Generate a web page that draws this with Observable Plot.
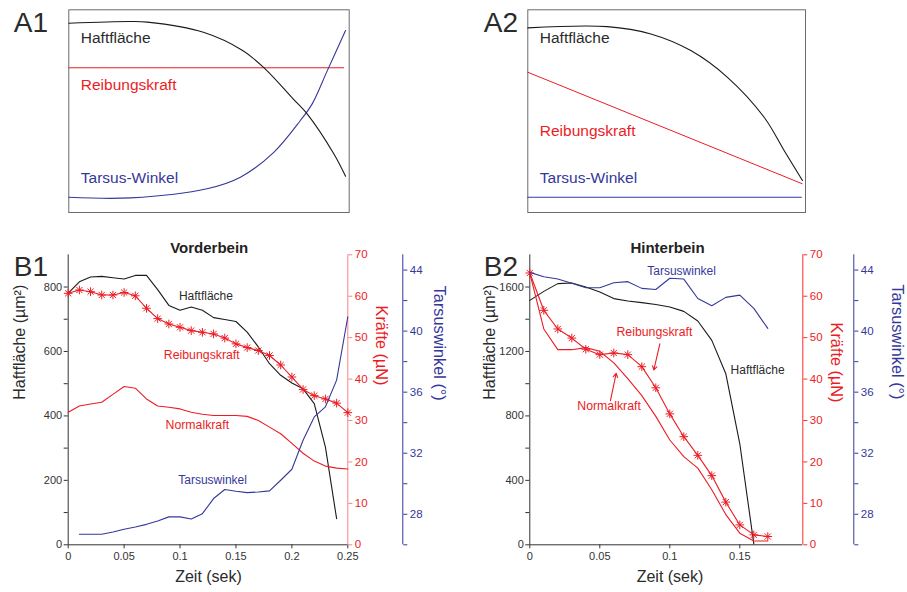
<!DOCTYPE html>
<html><head><meta charset="utf-8">
<script src="https://cdn.jsdelivr.net/npm/d3@7"></script>
<script src="https://cdn.jsdelivr.net/npm/@observablehq/plot@0.6"></script>
<style>
body{margin:0;background:#fff;}
#chart{position:relative;width:907px;height:592px;overflow:hidden;background:#fff;}
</style></head><body><div id="chart"></div>
<script>
// ---------- A1 (schematic, normalised 0..1) ----------
const a1HaftX = [0, 0.22, 0.28, 0.48, 0.62, 0.70, 0.80, 0.85, 0.945, 0.987];
const a1HaftY = [0.934, 0.942, 0.939, 0.889, 0.799, 0.709, 0.561, 0.487, 0.290, 0.179];
const a1ReibX = [0, 0.98];
const a1ReibY = [0.714, 0.714];
const a1TarX = [0, 0.22, 0.493, 0.612, 0.731, 0.826, 0.868, 0.922, 0.987];
const a1TarY = [0.075, 0.072, 0.117, 0.174, 0.297, 0.454, 0.536, 0.70, 0.898];
const aLabels = ["Haftfläche", "Reibungskraft", "Tarsus-Winkel"];
const a1LabelY = [0.86, 0.627, 0.169];

// ---------- A2 ----------
const a2HaftX = [0, 0.286, 0.443, 0.587, 0.719, 0.851, 0.923, 0.989];
const a2HaftY = [0.911, 0.917, 0.881, 0.799, 0.667, 0.470, 0.306, 0.158];
const a2ReibX = [0, 0.988];
const a2ReibY = [0.692, 0.142];
const a2TarX = [0, 0.985];
const a2TarY = [0.075, 0.075];
const a2LabelY = [0.86, 0.40, 0.169];

// ---------- B1 Vorderbein ----------
const b1T = [0,0.01,0.02,0.03,0.04,0.05,0.06,0.07,0.08,0.09,0.10,0.11,0.12,0.13,0.14,0.15,0.16,0.17,0.18,0.19,0.20,0.21,0.22,0.23,0.24,0.25];
const b1Haft = [781,816,831,833,829,825,836,836,792,743,728,738,728,705,699,693,660,614,562,526,502,484,438,303,81]; // t 0..0.24
const b1Reib = [60.7,61.5,61.1,60.3,60.3,60.9,60.1,57.1,54.6,53.3,52.5,51.7,51.3,50.9,49.9,48.5,47.6,46.9,45.7,43.4,40.5,37.5,36.0,35.2,34.2,31.9];
const b1Norm = [32.0,33.5,34.0,34.4,36.3,38.2,37.8,35.2,33.5,33.2,32.8,32.0,31.5,31.2,31.2,31.2,31.0,30.0,28.4,26.8,24.5,22.1,20.2,19.0,18.5,18.3];
const b1Tar = [26.69,26.69,26.69,26.84,27.02,27.17,27.34,27.56,27.83,27.83,27.69,28.04,29.03,29.62,29.51,29.42,29.46,29.53,30.23,30.95,32.85,34.38,35.04,36.79,40.94]; // t 0.01..0.25
const b1XTicks = [0, 0.05, 0.1, 0.15, 0.2, 0.25];
const b1LeftTicks = [0,100,200,300,400,500,600,700,800];

// ---------- B2 Hinterbein ----------
const b2T = [0,0.01,0.02,0.03,0.04,0.05,0.06,0.07,0.08,0.09,0.10,0.11,0.12,0.13,0.14,0.15,0.16,0.17];
const b2Haft = [1517,1573,1621,1625,1600,1569,1528,1513,1503,1492,1476,1449,1389,1269,1062,627,6]; // t 0..0.16
const b2Reib = [65.6,56.6,52.1,49.9,47.2,45.9,46.3,45.9,43.0,37.9,31.6,26.1,21.6,16.7,10.3,4.8,2.4,2.0];
const b2Norm = [65.6,52.1,47.1,47.1,47.6,46.7,43.9,40.1,36.0,31.0,25.3,21.3,18.5,13.3,7.3,2.8,0.9,0.9];
const b2Tar = [43.85,43.56,43.41,43.13,42.84,42.84,43.17,43.24,42.80,42.73,43.46,43.41,42.14,41.66,42.21,42.36,41.49,40.18];
const b2XTicks = [0, 0.05, 0.1, 0.15];
const b2LeftTicks = [0,200,400,600,800,1000,1200,1400,1600];
const b2Arrows = [
  {x1: 0.0929, y1: 48.5, x2: 0.0886, y2: 42.2},
  {x1: 0.0576, y1: 34.8, x2: 0.0617, y2: 41.4}
];

const forceTicks = [0,10,20,30,40,50,60,70];
const angleTicks = [26,28,30,32,34,36,38,40,42,44];

// ---------- styling ----------
const FONT = "'Liberation Sans', Arial, Helvetica, sans-serif";
const BLACK = "#1a1a1a", RED = "#ec1c24", BLUE = "#35389a", INK = "#2b2b2b", BOXC = "#6b6b6b", AXIS = "#333";

const chart = document.getElementById("chart");
const rows = (xs, ys) => ys.map((y, i) => ({x: xs[i], y}));

function plotAt(left, top, options) {
  const svg = Plot.plot(options);
  svg.style.position = "absolute";
  svg.style.left = left + "px";
  svg.style.top = top + "px";
  svg.style.fontFamily = FONT;
  svg.style.fontSize = "11px";
  svg.style.overflow = "visible";
  svg.style.background = "transparent";
  svg.style.maxWidth = "none";
  chart.append(svg);
}

// ---------- A panels ----------
function aPanel(left, geom, haft, reib, tar, labelY, letter, letterDx) {
  plotAt(left, 0, {
    ...geom,
    x: {domain: [0, 1], axis: null},
    y: {domain: [0, 1], axis: null},
    marks: [
      Plot.frame({stroke: BOXC, strokeWidth: 1}),
      Plot.line(reib, {x: "x", y: "y", stroke: RED, strokeWidth: 1}),
      Plot.line(tar, {x: "x", y: "y", stroke: BLUE, strokeWidth: 1.1, curve: "catmull-rom"}),
      Plot.line(haft, {x: "x", y: "y", stroke: BLACK, strokeWidth: 1.1, curve: "catmull-rom"}),
      Plot.text([aLabels[0]], {x: () => 0, y: () => labelY[0], dx: 12, textAnchor: "start", fill: INK, fontSize: 15.5}),
      Plot.text([aLabels[1]], {x: () => 0, y: () => labelY[1], dx: 12, textAnchor: "start", fill: RED, fontSize: 15.5}),
      Plot.text([aLabels[2]], {x: () => 0, y: () => labelY[2], dx: 12, textAnchor: "start", fill: BLUE, fontSize: 15.5}),
      Plot.text([letter], {frameAnchor: "top-left", textAnchor: "start", lineAnchor: "top", dx: letterDx, dy: 2.4, fontSize: 28, fill: INK})
    ]
  });
}
aPanel(0, {width: 455, height: 230, marginLeft: 68.3, marginRight: 106.3, marginTop: 9.3, marginBottom: 18},
  rows(a1HaftX, a1HaftY), rows(a1ReibX, a1ReibY), rows(a1TarX, a1TarY), a1LabelY, "A1", -55);
aPanel(455, {width: 452, height: 230, marginLeft: 72.3, marginRight: 102, marginTop: 9.3, marginBottom: 18},
  rows(a2HaftX, a2HaftY), rows(a2ReibX, a2ReibY), rows(a2TarX, a2TarY), a2LabelY, "A2", -44);

// ---------- B panels ----------
function bPanel(c) {
  const geom = {width: c.width, height: 362, marginLeft: c.ml, marginRight: c.mr, marginTop: 24.3, marginBottom: 47.7};
  const xMax = c.xDomain[1];
  // layer 1: Haftfläche (left axis) + x axis + titles
  plotAt(c.left, 230, {
    ...geom,
    x: {domain: c.xDomain},
    y: {domain: c.leftDomain},
    marks: [
      Plot.ruleX([0], {stroke: AXIS}),
      Plot.ruleY([0], {stroke: AXIS}),
      Plot.axisY(c.leftTicks, {anchor: "left", tickSize: 4, tickPadding: 2, label: null, color: AXIS, fontSize: 11,
        tickFormat: d => d % c.leftLabelStep === 0 ? String(d) : ""}),
      Plot.axisX(c.xTicks, {anchor: "bottom", tickSize: 4, tickPadding: 3, label: null, color: AXIS, fontSize: 11,
        tickFormat: d => String(d)}),
      Plot.line(rows(c.t, c.haft), {x: "x", y: "y", stroke: BLACK, strokeWidth: 1.1}),
      Plot.text(["Haftfläche"], {x: () => c.haftLab[0], y: () => c.haftLab[1], textAnchor: "start", fill: INK, fontSize: 12}),
      Plot.text(["Haftfläche (µm²)"], {frameAnchor: "left", rotate: -90, dx: c.leftTitleDx, fontSize: 16, fill: INK}),
      Plot.text(["Zeit (sek)"], {frameAnchor: "bottom", dy: 37.4, dx: c.xTitleDx, fontSize: 16, fill: INK}),
      Plot.text([c.title], {frameAnchor: "top", dy: -12.6, dx: 1.2, fontSize: 15, fontWeight: "bold", fill: "#222"}),
      Plot.text([c.letter], {frameAnchor: "top-left", textAnchor: "start", lineAnchor: "top", dx: c.letterDx, dy: 1.2, fontSize: 28, fill: INK})
    ]
  });
  // layer 2: forces (red axis)
  plotAt(c.left, 230, {
    ...geom,
    x: {domain: c.xDomain, axis: null},
    y: {domain: [0, 70]},
    marks: [
      Plot.ruleX([xMax], {stroke: c.redAxis}),
      Plot.axisY(forceTicks, {anchor: "right", tickSize: 4, tickPadding: 3, label: null, stroke: c.redAxis, fill: RED, fontSize: 11.5}),
      Plot.line(rows(c.t, c.norm), {x: "x", y: "y", stroke: RED, strokeWidth: 1.1}),
      Plot.line(rows(c.t, c.reib), {x: "x", y: "y", stroke: RED, strokeWidth: 1.1}),
      Plot.dot(rows(c.t, c.reib), {x: "x", y: "y", symbol: "plus", r: 2.9, stroke: RED, strokeWidth: 1}),
      Plot.dot(rows(c.t, c.reib), {x: "x", y: "y", symbol: "times", r: 2.9, stroke: RED, strokeWidth: 1}),
      ...(c.arrows ? [Plot.arrow(c.arrows, {x1: "x1", y1: "y1", x2: "x2", y2: "y2", stroke: RED, strokeWidth: 1.1, headLength: 6})] : []),
      Plot.text(["Reibungskraft"], {x: () => c.reibLab[0], y: () => c.reibLab[1], textAnchor: "start", fill: RED, fontSize: 12.3}),
      Plot.text(["Normalkraft"], {x: () => c.normLab[0], y: () => c.normLab[1], textAnchor: "start", fill: RED, fontSize: 12.3}),
      Plot.text(["Kräfte (µN)"], {frameAnchor: "right", rotate: 90, dx: c.redTitle[0], dy: c.redTitle[1], fontSize: 16.3, fill: RED})
    ]
  });
  // layer 3: Tarsuswinkel (blue axis)
  plotAt(c.left, 230, {
    ...geom,
    x: {domain: c.xDomain, axis: null},
    y: {domain: [26, 45]},
    marks: [
      Plot.ruleX([xMax], {stroke: BLUE, dx: c.blueDx}),
      Plot.axisY(angleTicks, {anchor: "right", dx: c.blueDx, tickSize: 4, tickPadding: 3, label: null, color: BLUE, fontSize: 11.5,
        tickFormat: d => d % 4 === 0 ? String(d) : ""}),
      Plot.line(rows(c.tarT, c.tar), {x: "x", y: "y", stroke: BLUE, strokeWidth: 1.1}),
      Plot.text(["Tarsuswinkel"], {x: () => c.tarLab[0], y: () => c.tarLab[1], textAnchor: "start", fill: BLUE, fontSize: 12}),
      Plot.text(["Tarsuswinkel (°)"], {frameAnchor: "right", rotate: 90, dx: c.blueTitle[0], dy: c.blueTitle[1], fontSize: 16.3, fill: BLUE})
    ]
  });
}

bPanel({
  left: 0, width: 455, ml: 67.7, mr: 107.7,
  xDomain: [0, 0.25], xTicks: b1XTicks, leftDomain: [0, 900], leftTicks: b1LeftTicks, leftLabelStep: 200,
  t: b1T, haft: b1Haft, reib: b1Reib, norm: b1Norm, tarT: b1T.slice(1), tar: b1Tar,
  haftLab: [0.099, 772], reibLab: [0.0855, 45.9], normLab: [0.087, 29.0], tarLab: [0.0984, 30.21],
  leftTitleDx: -48.4, xTitleDx: 0.5, redTitle: [33.7, -14.3], blueTitle: [91, 1], blueDx: 55,
  redAxis: "#f38488", title: "Vorderbein", letter: "B1", letterDx: -54.4
});
bPanel({
  left: 455, width: 452, ml: 74.3, mr: 104.7,
  xDomain: [0, 0.195], xTicks: b2XTicks, leftDomain: [0, 1800], leftTicks: b2LeftTicks, leftLabelStep: 400,
  t: b2T, haft: b2Haft, reib: b2Reib, norm: b2Norm, tarT: b2T, tar: b2Tar, arrows: b2Arrows,
  haftLab: [0.1434, 1086], reibLab: [0.0619, 51.3], normLab: [0.0339, 33.45], tarLab: [0.0839, 43.91],
  leftTitleDx: -40, xTitleDx: 3.7, redTitle: [33.4, 2.7], blueTitle: [94.4, -0.3], blueDx: 51,
  redAxis: "#ff2a2a", title: "Hinterbein", letter: "B2", letterDx: -46
});
</script></body></html>
